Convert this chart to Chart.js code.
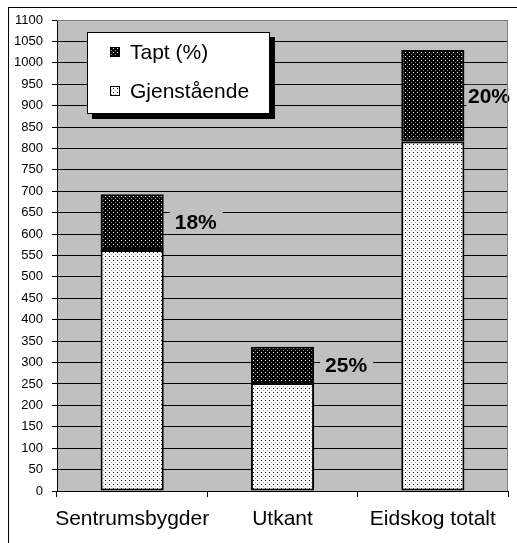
<!DOCTYPE html>
<html>
<head>
<meta charset="utf-8">
<script src="https://cdn.jsdelivr.net/npm/chart.js@4.4.1/dist/chart.umd.min.js"></script>
<style>
  html, body { margin: 0; padding: 0; background: #fff; }
  #wrap { width: 517px; height: 543px; position: relative; }
</style>
</head>
<body>
<div id="wrap"><canvas id="c"></canvas></div>
<script>
// Data
const categories = ["Sentrumsbygder", "Utkant", "Eidskog totalt"];
const gjenstaende = [563, 252, 816];
const tapt = [130, 85, 214];
const percentLabels = ["18%", "25%", "20%"];
const seriesNames = ["Tapt (%)", "Gjenstående"];

const FONT = "'Liberation Sans', Arial, sans-serif";

// Small dotted fill patterns (like the old Excel fills)
function makePattern(base, dot, dot2) {
    const t = document.createElement("canvas");
    t.width = 4; t.height = 4;
    const g = t.getContext("2d");
    g.fillStyle = base; g.fillRect(0, 0, 4, 4);
    g.fillStyle = dot; g.fillRect(1, 0, 1, 1);
    g.fillStyle = dot2; g.fillRect(3, 2, 1, 1);
    return g.createPattern(t, "repeat");
}
const lightFill = makePattern("#ffffff", "#000000", "#9a9a9a");
const darkFill = makePattern("#000000", "#ffffff", "#8a8a8a");

// Gray plot area + outer frame
const backdrop = {
    id: "backdrop",
    beforeDraw(chart) {
        const ctx = chart.ctx, a = chart.chartArea;
        ctx.save();
        ctx.fillStyle = "#C0C0C0";
        ctx.fillRect(a.left, a.top, a.right - a.left, a.bottom - a.top);
        ctx.strokeStyle = "#000";
        ctx.lineWidth = 1;
        ctx.strokeRect(8.5, 7.5, 600, 600);
        ctx.restore();
    },
    afterDraw(chart) {
        const ctx = chart.ctx, a = chart.chartArea;
        ctx.save();
        ctx.strokeStyle = "#808080";
        ctx.lineWidth = 1;
        ctx.beginPath();
        ctx.moveTo(a.left, a.top + 0.5); ctx.lineTo(a.right - 0.5, a.top + 0.5);
        ctx.lineTo(a.right - 0.5, a.bottom);
        ctx.stroke();
        ctx.restore();
    }
};

// Percent labels beside the top segment + legend box with shadow
const overlay = {
    id: "overlay",
    afterDatasetsDraw(chart) {
        const ctx = chart.ctx, a = chart.chartArea;
        const meta = chart.getDatasetMeta(1);
        ctx.save();
        ctx.font = "bold 21px " + FONT;
        ctx.textBaseline = "middle";
        ctx.textAlign = "left";
        meta.data.forEach((el, i) => {
            const right = el.x + el.width / 2;
            const mid = (el.y + el.base) / 2;
            const w = ctx.measureText(percentLabels[i]).width;
            const tx = Math.min(right + 11, a.right + 2 - w);
            const boxL = Math.max(right + 2, Math.min(right + 6, tx - 5));
            const boxR = Math.min(tx + w + 6, a.right - 1);
            ctx.fillStyle = "#C0C0C0";
            ctx.fillRect(boxL, mid - 11, boxR - boxL, 22);
            ctx.fillStyle = "#000";
            ctx.fillText(percentLabels[i], tx, mid + 1);
        });

        // legend
        const bx = 87, by = 32, bw = 183, bh = 82;
        ctx.fillStyle = "#000";
        ctx.fillRect(bx + 5, by + 5, bw, bh);
        ctx.fillStyle = "#fff";
        ctx.fillRect(bx, by, bw, bh);
        ctx.strokeStyle = "#000";
        ctx.lineWidth = 1;
        ctx.strokeRect(bx + 0.5, by + 0.5, bw - 1, bh - 1);
        const items = [
            { text: seriesNames[0], fill: darkFill, y: 52 },
            { text: seriesNames[1], fill: lightFill, y: 91 }
        ];
        ctx.font = "21px " + FONT;
        items.forEach(it => {
            ctx.fillStyle = it.fill;
            ctx.fillRect(110, it.y - 5, 10, 10);
            ctx.strokeRect(110.5, it.y - 4.5, 9, 9);
            ctx.fillStyle = "#000";
            ctx.fillText(it.text, 130, it.y + 1);
        });
        ctx.restore();
    }
};

new Chart(document.getElementById("c"), {
    type: "bar",
    data: {
        labels: categories,
        datasets: [
            {
                label: seriesNames[1],
                data: gjenstaende,
                backgroundColor: lightFill,
                borderColor: "#000",
                borderWidth: 2,
                borderSkipped: false
            },
            {
                label: seriesNames[0],
                data: tapt,
                backgroundColor: darkFill,
                borderColor: "#000",
                borderWidth: 2,
                borderSkipped: false
            }
        ]
    },
    options: {
        responsive: true,
        maintainAspectRatio: false,
        animation: false,
        layout: { padding: { top: 20, right: 9, left: 0, bottom: 0 } },
        datasets: { bar: { categoryPercentage: 1, barPercentage: 0.42 } },
        plugins: { legend: { display: false }, tooltip: { enabled: false } },
        scales: {
            x: {
                stacked: true,
                afterFit(s) { s.height = 52; s.paddingLeft = 0; s.paddingRight = 0; },
                grid: { drawOnChartArea: false, color: "#000", tickLength: 6, offset: true },
                border: { display: true, color: "#000" },
                ticks: {
                    color: "#000",
                    padding: 10,
                    maxRotation: 0,
                    minRotation: 0,
                    autoSkip: false,
                    font: { family: FONT, size: 21 }
                }
            },
            y: {
                stacked: true,
                min: 0,
                max: 1100,
                afterFit(s) { s.width = 57; },
                grid: { color: "#000", tickLength: 5 },
                border: { display: true, color: "#000" },
                ticks: {
                    stepSize: 50,
                    color: "#000",
                    padding: 9,
                    callback: v => String(v),
                    font: { family: FONT, size: 13 }
                }
            }
        }
    },
    plugins: [backdrop, overlay]
});
</script>
</body>
</html>
